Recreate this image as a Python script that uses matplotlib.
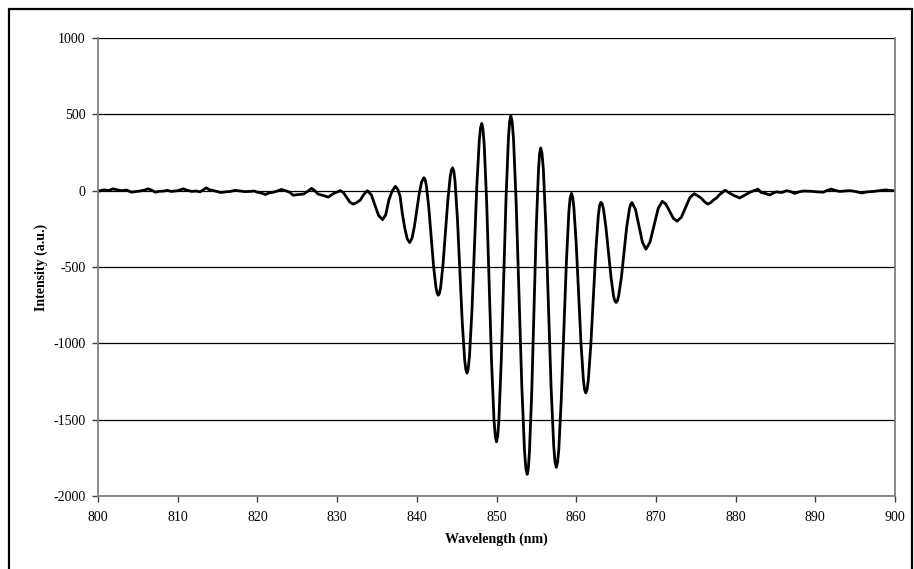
import matplotlib.pyplot as plt
from matplotlib.patches import Rectangle

# Wavelength (nm) and intensity (a.u.)
wavelength = [
    800.0, 800.4, 800.8, 801.3, 801.9, 802.4, 803.0, 803.6, 804.2, 804.7,
    805.2, 805.8, 806.3, 806.7, 807.2, 807.7, 808.2, 808.7, 809.2, 810.0,
    810.7, 811.2, 811.8, 812.3, 812.8, 813.6, 814.0, 814.5, 815.0, 815.4,
    816.0, 816.6, 817.2, 817.8, 818.4, 819.1, 819.6, 820.0, 820.5, 821.0,
    821.5, 822.0, 822.5, 823.0, 823.7, 824.1, 824.5, 825.2, 825.8, 826.3,
    826.8, 827.2, 827.6, 828.3, 828.9, 829.5, 830.4,
    830.8, 831.2, 831.6, 832.0,
    832.45, 832.9, 833.35, 833.8,
    834.3, 834.75, 835.2, 835.7,
    836.1, 836.5, 836.9, 837.3,
    837.6, 837.9, 838.2, 838.5, 838.8, 839.1,
    839.4, 839.7, 840.0, 840.3, 840.6, 840.9,
    841.05, 841.2, 841.5, 841.8, 842.1, 842.4, 842.55, 842.7,
    842.85, 843.0, 843.3, 843.6, 843.9, 844.2, 844.35, 844.5,
    844.65, 844.8, 845.1, 845.4, 845.7, 846.0, 846.15, 846.3,
    846.45, 846.61, 846.92, 847.23, 847.53, 847.84, 848.0, 848.15,
    848.3, 848.46, 848.77, 849.08, 849.38, 849.69, 849.85, 850.0,
    850.15, 850.3, 850.6, 850.9, 851.2, 851.5, 851.65, 851.8,
    851.97, 852.14, 852.48, 852.83, 853.17, 853.51, 853.68, 853.85,
    853.99, 854.13, 854.42, 854.7, 854.98, 855.27, 855.41, 855.55,
    855.71, 855.88, 856.2, 856.53, 856.85, 857.18, 857.34, 857.5,
    857.66, 857.82, 858.13, 858.45, 858.77, 859.08, 859.24, 859.4,
    859.55, 859.7, 860.0, 860.3, 860.6, 860.9, 861.05, 861.2,
    861.36, 861.52, 861.83, 862.15, 862.47, 862.78, 862.94, 863.1,
    863.26, 863.42, 863.73, 864.05, 864.37, 864.68, 864.84, 865.0,
    865.17, 865.33, 865.67, 866.0, 866.33, 866.67, 866.83, 867.0,
    867.44, 867.88, 868.31, 868.75,
    869.26, 869.78, 870.29, 870.8,
    871.26, 871.73, 872.19, 872.65,
    873.19, 873.73, 874.26, 874.8,
    875.3, 875.7, 876.1, 876.5, 876.9, 877.2, 877.6, 878.0, 878.7, 879.0,
    879.3, 879.8, 880.2, 880.5, 881.2, 881.8, 882.3, 882.8, 883.2, 883.7,
    884.3, 884.7, 885.1, 885.8, 886.4, 886.9, 887.4, 888.1, 888.6, 889.0,
    889.7, 890.3, 891.0, 891.5, 892.0, 892.6, 893.1, 893.7, 894.4, 895.1,
    895.8, 896.5, 897.3, 898.0, 898.8, 899.3, 899.8, 900.0,
]
intensity = [
    -5, 2, 5, 0, 12, 5, 0, 4, -10, -6,
    -3, 3, 12, 4, -10, -4, -3, 2, -5, 0,
    12, 2, -5, -2, -8, 18, 6, 0, -6, -12,
    -8, -5, 2, -2, -6, -5, -2, -10, -16, -25,
    -14, -10, -2, 8, -3, -12, -30, -25, -22, -5,
    15, 0, -22, -32, -42, -20, 0,
    -13, -44, -75, -88,
    -78, -62, -25, 0,
    -28, -95, -162, -190,
    -158, -60, -4, 28,
    10, -35, -156, -248, -315, -340,
    -312, -234, -128, -21, 57, 85,
    72, 33, -107, -300, -493, -633, -672, -685,
    -671, -629, -476, -267, -59, 94, 136, 150,
    127, 60, -186, -522, -859, -1105, -1172, -1195,
    -1167, -1085, -786, -377, 31, 330, 412, 440,
    405, 300, -81, -602, -1124, -1505, -1610, -1645,
    -1609, -1502, -1111, -577, -44, 347, 454, 490,
    450, 333, -97, -684, -1271, -1701, -1818, -1858,
    -1822, -1715, -1323, -789, -254, 137, 244, 280,
    244, 140, -243, -766, -1289, -1672, -1776, -1812,
    -1782, -1692, -1363, -915, -466, -138, -48, -18,
    -40, -106, -345, -672, -998, -1237, -1303, -1325,
    -1304, -1241, -1013, -700, -388, -160, -97, -76,
    -87, -120, -240, -404, -568, -688, -721, -732,
    -721, -688, -568, -405, -241, -122, -89, -78,
    -123, -231, -338, -383,
    -337, -226, -116, -70,
    -89, -135, -181, -200,
    -174, -110, -46, -20,
    -35, -50, -72, -88, -78, -62, -48, -25, 3, -8,
    -18, -32, -40, -48, -28, -10, 0, 10, -12, -18,
    -28, -16, -8, -12, 0, -6, -18, -6, -2, -3,
    -5, -8, -10, 2, 10, 0, -5, -2, 0, -6,
    -15, -8, -5, 0, 5, 2, 0, 0,
]

x_ticks = list(range(800, 901, 10))
y_ticks = list(range(-2000, 1001, 500))

plt.rcParams['font.family'] = ['Liberation Serif', 'DejaVu Serif']
plt.rcParams['axes.unicode_minus'] = False

fig = plt.figure(figsize=(9.14, 5.69), dpi=100)
ax = fig.add_axes([98 / 914, 1 - 496 / 569, 797 / 914, 458 / 569])

# outer chart border
fig.patches.append(Rectangle((8.5 / 914, -0.02), 903 / 914, 1.02 - 9 / 569,
                             transform=fig.transFigure, fill=False,
                             edgecolor='black', linewidth=1.6))

ax.plot(wavelength, intensity, color='black', linewidth=2.0,
        solid_joinstyle='round')

ax.set_xlim(800, 900)
ax.set_ylim(-2000, 1000)
ax.set_xticks(x_ticks)
ax.set_yticks(y_ticks)
ax.yaxis.grid(True, color='black', linewidth=0.9)
ax.set_axisbelow(True)

for side in ['left', 'bottom', 'right']:
    ax.spines[side].set_color('#808080')
    ax.spines[side].set_linewidth(1.3)
ax.spines['top'].set_visible(False)

ax.tick_params(axis='both', direction='out', length=4, width=1,
               color='#404040', labelsize=10)
ax.tick_params(axis='x', pad=7)
ax.tick_params(axis='y', pad=5)

ax.set_xlabel('Wavelength (nm)', fontsize=10, fontweight='bold', labelpad=6)
ax.set_ylabel('Intensity (a.u.)', fontsize=10, fontweight='bold', labelpad=4)

plt.savefig('out.png', dpi=100)
